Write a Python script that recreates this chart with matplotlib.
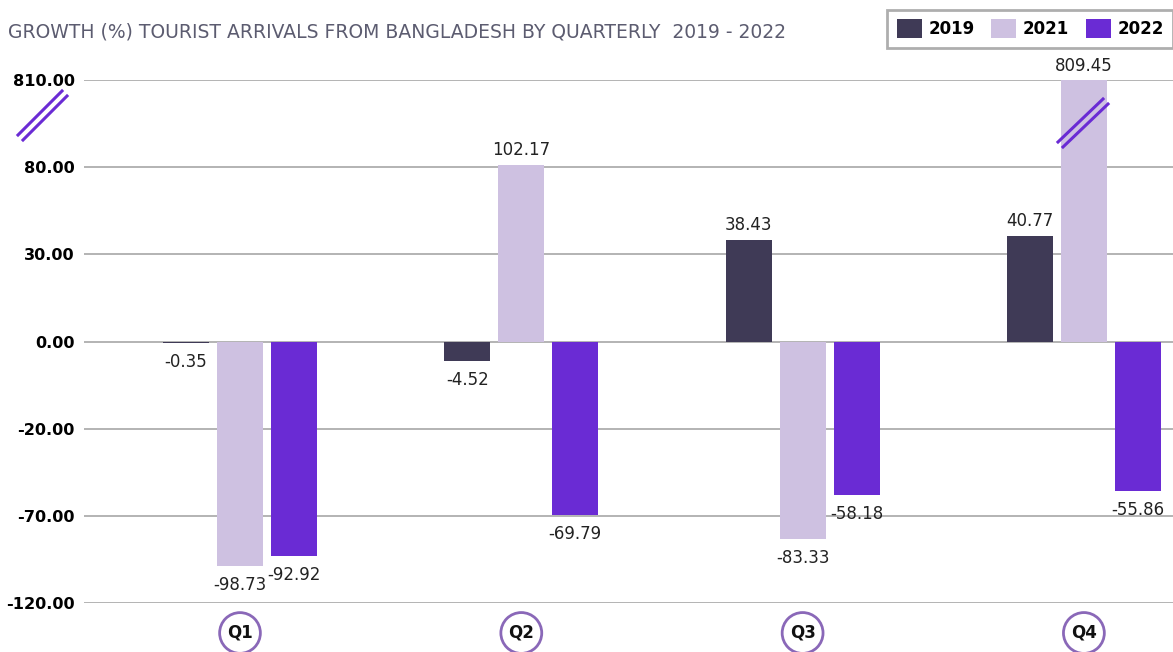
import numpy as np
import matplotlib
matplotlib.use("Agg")
import matplotlib.pyplot as plt
from matplotlib.patches import Patch
import matplotlib.transforms as mtransforms

plt.rcParams['font.family'] = ['DejaVu Sans']

quarters = ["Q1", "Q2", "Q3", "Q4"]
years = ["2019", "2021", "2022"]
growth_2019 = [-0.35, -4.52, 38.43, 40.77]
growth_2021 = [-98.73, 102.17, -83.33, 809.45]
growth_2022 = [-92.92, -69.79, -58.18, -55.86]
tick_values = [-120, -70, -20, 0, 30, 80, 810]
title = "GROWTH (%) TOURIST ARRIVALS FROM BANGLADESH BY QUARTERLY  2019 - 2022"

colors = ["#3f3a56", "#cec1e1", "#6a2bd4"]
series = [growth_2019, growth_2021, growth_2022]

tv = np.array(tick_values, dtype=float)
tp = np.arange(len(tv), dtype=float)


def _ext(x, xs, ys):
    x = np.asarray(x, dtype=float)
    out = np.interp(x, xs, ys)
    s0 = (ys[1] - ys[0]) / (xs[1] - xs[0])
    s1 = (ys[-1] - ys[-2]) / (xs[-1] - xs[-2])
    out = np.where(x < xs[0], ys[0] + (x - xs[0]) * s0, out)
    out = np.where(x > xs[-1], ys[-1] + (x - xs[-1]) * s1, out)
    return out


def fwd(v):
    return _ext(v, tv, tp)


def inv(p):
    return _ext(p, tp, tv)


fig = plt.figure(figsize=(11.73, 6.52), dpi=100)
ax = fig.add_axes([84 / 1173, 1 - 603 / 652, 1 - 84 / 1173, (603 - 80) / 652])
ax.set_yscale('function', functions=(fwd, inv))
ax.set_ylim(tick_values[0], tick_values[-1])

x = np.arange(len(quarters))
step = 54 / 281.3
width = 46 / 281.3
for i, (vals, col) in enumerate(zip(series, colors)):
    xs = x + (i - 1) * step
    ax.bar(xs, vals, width=width, color=col, zorder=3, label=years[i])
    for xx, v in zip(xs, vals):
        if v >= 0:
            ax.annotate(f"{v:.2f}", (xx, v), xytext=(0, 4), textcoords='offset points',
                        ha='center', va='bottom', fontsize=12, color='#222222',
                        annotation_clip=False)
        else:
            ax.annotate(f"{v:.2f}", (xx, v), xytext=(0, -7), textcoords='offset points',
                        ha='center', va='top', fontsize=12, color='#222222',
                        annotation_clip=False)

ax.set_xlim(-156 / 281.3, (1173 - 240) / 281.3)
ax.set_yticks(tick_values)
ax.set_yticklabels([f"{t:.2f}" for t in tick_values], fontsize=11.6, fontweight='bold', color='#000000')
ax.tick_params(axis='y', length=0, pad=6.5)
ax.tick_params(axis='x', length=0, labelbottom=False)
ax.grid(axis='y', color='#b3b3b3', linewidth=1.4, zorder=0)
ax.set_axisbelow(True)
for s in ax.spines.values():
    s.set_visible(False)

# quarter labels in circles
trans = mtransforms.blended_transform_factory(ax.transData, ax.transAxes)
for xx, q in zip(x, quarters):
    ax.text(xx, -30 / 523, q, transform=trans, ha='center', va='center', fontsize=12,
            fontweight='bold', color='#111111', clip_on=False,
            bbox=dict(boxstyle='circle,pad=0.45', fc='white', ec='#8a68b8', lw=2))

# break marks
brk = "#6a2bd4"
for dx, dy in [(0, 0), (5, 5)]:
    fig.add_artist(plt.Line2D([(18 + dx) / 1173, (62 + dx) / 1173],
                              [1 - (135 + dy) / 652, 1 - (91 + dy) / 652],
                              color=brk, lw=2.2, transform=fig.transFigure))
    fig.add_artist(plt.Line2D([(1058 + dx) / 1173, (1103 + dx) / 1173],
                              [1 - (142 + dy) / 652, 1 - (99 + dy) / 652],
                              color=brk, lw=2.2, transform=fig.transFigure, zorder=5))

fig.text(8 / 1173, 1 - 32 / 652, title, fontsize=13.5, color='#5c5c70', ha='left', va='center')

handles = [Patch(facecolor=c, edgecolor='none') for c in colors]
leg = fig.legend(handles, years, loc='upper right', bbox_to_anchor=(1.0, 1 - 10 / 652),
                 ncol=3, frameon=True, fancybox=False, edgecolor='#9a9a9a',
                 prop={'weight': 'bold', 'size': 12}, handlelength=1.5, handleheight=1.4,
                 handletextpad=0.4, columnspacing=1.0, borderpad=0.55, borderaxespad=0)
leg.get_frame().set_linewidth(2)

fig.savefig("out.png", dpi=100)
